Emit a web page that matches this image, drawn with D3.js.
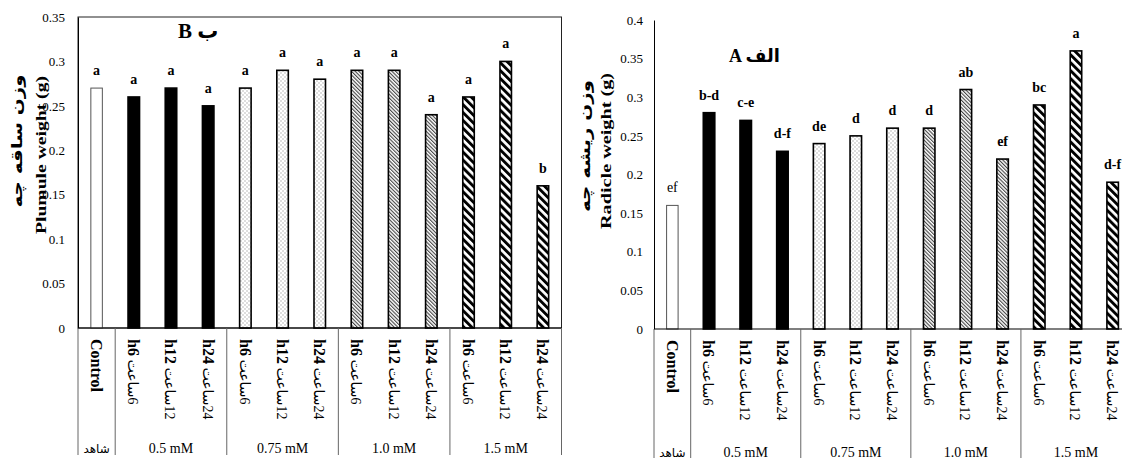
<!DOCTYPE html>
<html>
<head>
<meta charset="utf-8">
<script src="https://cdn.jsdelivr.net/npm/d3@7/dist/d3.min.js"></script>
<style>
  body { margin: 0; background: #fff; }
  text { font-family: "Liberation Serif", "Times New Roman", "DejaVu Sans", serif; fill: #000; }
</style>
</head>
<body>
<div id="chart"></div>
<script>
// ---- data ----
var groups = ["شاهد", "0.5 mM", "0.75 mM", "1.0 mM", "1.5 mM"];
var hours = ["6", "12", "24"];
var categories = ["Control", "h6", "h12", "h24", "h6", "h12", "h24", "h6", "h12", "h24", "h6", "h12", "h24"];
var plumuleWeight = [0.27, 0.26, 0.27, 0.25, 0.27, 0.29, 0.28, 0.29, 0.29, 0.24, 0.26, 0.30, 0.16];
var plumuleLetters = ["a", "a", "a", "a", "a", "a", "a", "a", "a", "a", "a", "a", "b"];
var radicleWeight = [0.16, 0.28, 0.27, 0.23, 0.24, 0.25, 0.26, 0.26, 0.31, 0.22, 0.29, 0.36, 0.19];
var radicleLetters = ["ef", "b-d", "c-e", "d-f", "de", "d", "d", "d", "ab", "ef", "bc", "a", "d-f"];
var plumuleTicks = [0, 0.05, 0.1, 0.15, 0.2, 0.25, 0.3, 0.35];
var plumuleTickLabels = ["0", "0.05", "0.1", "0.15", "0.2", "0.25", "0.3", "0.35"];
var radicleTicks = [0, 0.05, 0.1, 0.15, 0.2, 0.25, 0.3, 0.35, 0.4];
var radicleTickLabels = ["0", "0.05", "0.1", "0.15", "0.2", "0.25", "0.3", "0.35", "0.4"];

var svgWidth = 1122, svgHeight = 461;

var svg = d3.select("#chart")
  .append("svg")
  .attr("width", svgWidth)
  .attr("height", svgHeight);

svg.append("rect").attr("width", svgWidth).attr("height", svgHeight).attr("fill", "#fff");

// ---- fill patterns ----
var defs = svg.append("defs");

var dots = defs.append("pattern")
  .attr("id", "dots").attr("patternUnits", "userSpaceOnUse")
  .attr("width", 4).attr("height", 4);
dots.append("rect").attr("width", 4).attr("height", 4).attr("fill", "#fff");
dots.append("rect").attr("x", 0.5).attr("y", 0.5).attr("width", 1).attr("height", 1).attr("fill", "#777");
dots.append("rect").attr("x", 2.5).attr("y", 2.5).attr("width", 1).attr("height", 1).attr("fill", "#777");

var fine = defs.append("pattern")
  .attr("id", "fine").attr("patternUnits", "userSpaceOnUse")
  .attr("width", 2.6).attr("height", 10)
  .attr("patternTransform", "rotate(-45)");
fine.append("rect").attr("width", 2.6).attr("height", 10).attr("fill", "#fff");
fine.append("rect").attr("width", 1.1).attr("height", 10).attr("fill", "#444");

var wide = defs.append("pattern")
  .attr("id", "wide").attr("patternUnits", "userSpaceOnUse")
  .attr("width", 5.6).attr("height", 10)
  .attr("patternTransform", "rotate(-45)");
wide.append("rect").attr("width", 5.6).attr("height", 10).attr("fill", "#fff");
wide.append("rect").attr("width", 2.9).attr("height", 10).attr("fill", "#000");

// fill of each bar by its group
function barFill(i) {
  if (i === 0) return "#fff";
  var grp = Math.floor((i - 1) / 3);
  return ["#000", "url(#dots)", "url(#fine)", "url(#wide)"][grp];
}

function drawPanel(p) {
  var g = svg.append("g");

  var x = d3.scaleBand().domain(d3.range(categories.length)).range([p.left, p.right]);
  var y = d3.scaleLinear().domain([0, p.yMax]).range([p.bottom, p.top]);
  var barW = 11.5;

  // plot frame
  if (p.frame) {
    g.append("rect")
      .attr("x", p.left).attr("y", p.top)
      .attr("width", p.right - p.left).attr("height", p.bottom - p.top)
      .attr("fill", "none").attr("stroke", "#222").attr("stroke-width", 1);
  }

  // y axis
  var yAxis = d3.axisLeft(y)
    .tickValues(p.ticks)
    .tickSize(0)
    .tickPadding(p.tickPad)
    .tickFormat(function(d, i) { return p.tickLabels[i]; });

  var ay = g.append("g").attr("transform", "translate(" + p.left + ",0)").call(yAxis);
  ay.select(".domain").attr("stroke", "#000").attr("stroke-width", 1);
  ay.selectAll("text")
    .style("font-family", '"Liberation Serif", serif')
    .style("font-size", "13px")
    .attr("fill", "#000");

  // bars
  g.append("g").selectAll("rect")
    .data(p.values)
    .enter()
    .append("rect")
    .attr("x", function(d, i) { return x(i) + (x.bandwidth() - barW) / 2; })
    .attr("y", function(d) { return y(d); })
    .attr("width", barW)
    .attr("height", function(d) { return y(0) - y(d); })
    .attr("fill", function(d, i) { return barFill(i); })
    .attr("stroke", function(d, i) { return i === 0 ? "#555" : "#000"; })
    .attr("stroke-width", function(d, i) { return i === 0 ? 1 : 1.6; });

  // significance letters
  g.append("g").selectAll("text")
    .data(p.values)
    .enter()
    .append("text")
    .attr("x", function(d, i) { return x(i) + x.bandwidth() / 2; })
    .attr("y", function(d) { return y(d) - 13; })
    .attr("text-anchor", "middle")
    .style("font-size", "14px")
    .style("font-weight", function(d, i) { return (i === 0 && !p.boldControlLetter) ? "normal" : "bold"; })
    .text(function(d, i) { return p.letters[i]; });

  // zero line
  g.append("line")
    .attr("x1", p.left).attr("x2", p.right)
    .attr("y1", y(0)).attr("y2", y(0))
    .attr("stroke", "#000").attr("stroke-width", 1.2);

  // category separators (group boundaries)
  var bounds = [0, 1, 4, 7, 10, 13];
  g.append("g").selectAll("line")
    .data(bounds)
    .enter()
    .append("line")
    .attr("x1", function(b) { return b < categories.length ? x(b) : p.right; })
    .attr("x2", function(b) { return b < categories.length ? x(b) : p.right; })
    .attr("y1", y(0))
    .attr("y2", y(0) + p.catDepth)
    .attr("stroke", "#666")
    .attr("stroke-width", 1);

  // rotated category labels
  var catLabels = g.append("g").selectAll("text")
    .data(categories)
    .enter()
    .append("text")
    .attr("transform", function(d, i) {
      return "translate(" + (x(i) + x.bandwidth() / 2) + "," + (y(0) + 11) + ") rotate(90)";
    })
    .attr("dy", "0.35em")
    .style("font-size", "16px");

  catLabels.each(function(d, i) {
    var t = d3.select(this);
    if (i === 0) {
      t.style("font-weight", "bold").text(d);
    } else {
      var h = hours[(i - 1) % 3];
      t.append("tspan").style("font-weight", "bold").text(d);
      t.append("tspan").style("font-size", "14px").text(" ساعت\u200E" + h);
    }
  });

  // group labels
  g.append("g").selectAll("text")
    .data(groups)
    .enter()
    .append("text")
    .attr("x", function(d, i) {
      if (i === 0) return x(0) + x.bandwidth() / 2;
      return x(1 + (i - 1) * 3) + x.bandwidth() * 1.5;
    })
    .attr("y", y(0) + p.groupY)
    .attr("text-anchor", "middle")
    .style("font-size", function(d, i) { return i === 0 ? "12px" : "14px"; })
    .text(function(d) { return d; });

  // y axis titles
  g.append("text")
    .attr("transform", "translate(" + p.arX + "," + p.arY + ") rotate(-90)")
    .attr("text-anchor", "middle")
    .attr("dy", "0.35em")
    .attr("textLength", p.arLen)
    .attr("lengthAdjust", "spacingAndGlyphs")
    .style("font-family", '"DejaVu Sans", sans-serif')
    .style("font-size", "15px")
    .style("font-weight", "bold")
    .text(p.arTitle);

  g.append("text")
    .attr("transform", "translate(" + p.enX + "," + p.enY + ") rotate(-90)")
    .attr("text-anchor", "middle")
    .attr("dy", "0.35em")
    .attr("textLength", p.enLen)
    .attr("lengthAdjust", "spacingAndGlyphs")
    .style("font-size", "15px")
    .style("font-weight", "bold")
    .text(p.enTitle);

  // panel title
  g.append("text")
    .attr("x", p.titleX).attr("y", p.titleY)
    .style("font-size", p.titleSize + "px")
    .style("font-weight", "bold")
    .text(p.title);
}

// left panel: plumule (B)
drawPanel({
  left: 78, right: 561.5, top: 17, bottom: 328, yMax: 0.35,
  ticks: plumuleTicks, tickLabels: plumuleTickLabels, tickPad: 13,
  values: plumuleWeight, letters: plumuleLetters, boldControlLetter: true,
  frame: true, catDepth: 127, groupY: 125,
  arTitle: "وزن ساقه چه", arX: 17, arY: 141, arLen: 133,
  enTitle: "Plumule weight (g)", enX: 41, enY: 155, enLen: 158,
  title: "B ب", titleX: 178, titleY: 38, titleSize: 21
});

// right panel: radicle (A)
drawPanel({
  left: 654, right: 1131, top: 20, bottom: 329, yMax: 0.4,
  ticks: radicleTicks, tickLabels: radicleTickLabels, tickPad: 11,
  values: radicleWeight, letters: radicleLetters, boldControlLetter: false,
  frame: false, catDepth: 129, groupY: 128,
  arTitle: "وزن ریشه چه", arX: 585, arY: 146, arLen: 132,
  enTitle: "Radicle weight (g)", enX: 606, enY: 151, enLen: 156,
  title: "A الف", titleX: 729, titleY: 62, titleSize: 18
});
</script>
</body>
</html>
